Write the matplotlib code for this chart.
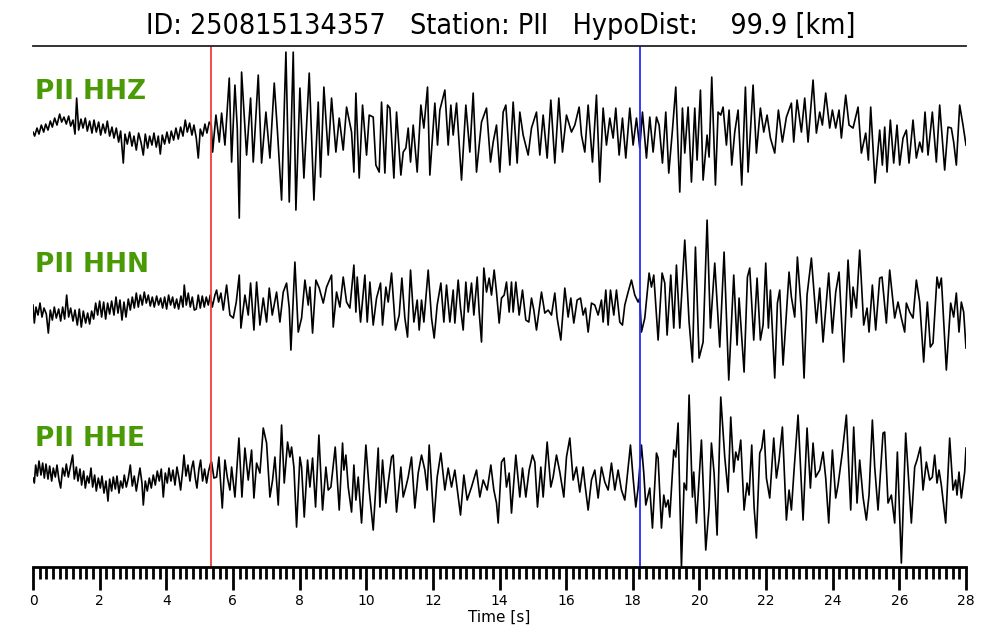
import matplotlib
matplotlib.use("Agg")
import matplotlib.pyplot as plt
import numpy as np

# event info
event_id = "250815134357"
station = "PII"
hypo_dist = 99.9
channels = ["HHZ", "HHN", "HHE"]
p_pick = 5.34   # red line [s]
s_pick = 18.22  # blue line [s]

# traces: vertex times [s] and amplitudes (arbitrary units)
z_t = [0.00, 0.05, 0.12, 0.18, 0.25, 0.32, 0.38, 0.45, 0.52, 0.58, 0.65, 0.72, 0.80, 0.86, 0.93,
       1.00, 1.07, 1.13, 1.20, 1.26, 1.31, 1.37, 1.44, 1.50, 1.57, 1.63, 1.70, 1.77, 1.83, 1.90,
       1.97, 2.03, 2.10, 2.17, 2.23, 2.30, 2.37, 2.43, 2.50, 2.57, 2.63, 2.71, 2.76, 2.83, 2.90,
       2.97, 3.03, 3.10, 3.17, 3.24, 3.31, 3.37, 3.44, 3.50, 3.57, 3.63, 3.70, 3.76, 3.82, 3.88,
       3.95, 4.02, 4.09, 4.15, 4.22, 4.29, 4.36, 4.43, 4.50, 4.57, 4.63, 4.70, 4.77, 4.83, 4.90,
       4.96, 5.02, 5.09, 5.16, 5.22, 5.29, 5.35,
       5.39, 5.49, 5.59, 5.66, 5.76, 5.89, 5.96, 6.06, 6.13, 6.19, 6.26, 6.41, 6.53, 6.61, 6.76,
       6.86, 6.99, 7.11, 7.24, 7.33, 7.46, 7.59, 7.69, 7.81, 7.89, 8.01, 8.13, 8.29, 8.43, 8.56,
       8.63, 8.73, 8.86, 8.96, 9.09, 9.19, 9.31, 9.41, 9.56, 9.63, 9.69, 9.79, 9.89, 10.01, 10.09,
       10.21, 10.29, 10.39, 10.46, 10.56, 10.64, 10.71, 10.83, 10.91, 11.04, 11.11, 11.19, 11.26,
       11.33, 11.41, 11.53, 11.64, 11.73, 11.84, 11.91, 12.06, 12.14, 12.21, 12.36, 12.46, 12.54,
       12.61, 12.71, 12.86, 12.99, 13.11, 13.21, 13.31, 13.46, 13.61, 13.73, 13.81, 13.91, 14.01,
       14.11, 14.19, 14.31, 14.41, 14.53, 14.61, 14.71, 14.86, 14.96, 15.11, 15.21, 15.31, 15.43,
       15.54, 15.66, 15.78, 15.89, 16.01, 16.16, 16.26, 16.39, 16.46, 16.56, 16.66, 16.79, 16.91,
       17.01, 17.11, 17.21, 17.31, 17.41, 17.49, 17.59, 17.69, 17.79, 17.91, 18.01, 18.11, 18.21,
       18.29, 18.41, 18.51, 18.61, 18.71, 18.79, 18.89, 18.99, 19.08, 19.19, 19.29, 19.41, 19.49,
       19.56, 19.66, 19.76, 19.86, 19.93, 20.03, 20.11, 20.23, 20.29, 20.37, 20.48, 20.56, 20.64,
       20.71, 20.81, 20.89, 20.97, 21.06, 21.16, 21.27, 21.38, 21.46, 21.61, 21.71, 21.83, 21.93,
       22.03, 22.13, 22.26, 22.37, 22.49, 22.61, 22.76, 22.83, 22.93, 23.06, 23.16, 23.26, 23.41,
       23.51, 23.61, 23.69, 23.79, 23.91, 23.99, 24.09, 24.19, 24.26, 24.39, 24.49, 24.61, 24.76,
       24.86, 24.99, 25.07, 25.14, 25.27, 25.41, 25.49, 25.56, 25.63, 25.73, 25.83, 25.93, 26.01,
       26.11, 26.21, 26.29, 26.41, 26.51, 26.61, 26.69, 26.77, 26.86, 26.99, 27.11, 27.21, 27.36,
       27.46, 27.56, 27.63, 27.71, 27.81, 27.91, 28.00]
z_a = [-2, -6, 2, -4, 5, -2, 6, 0, 9, 3, 12, 5, 16, 8, 13,
       6, 14, 4, 10, -4, 32, 0, 11, 2, 12, -1, 9, -3, 10, -2,
       8, -5, 6, -3, 9, -6, 3, -8, 2, -12, -1, -33, -4, -14, -2,
       -16, -6, -20, -3, -12, -25, -4, -18, -6, -15, -3, -17, -6, -24, -5,
       -14, -2, -13, -1, -10, 2, -9, 3, -6, 10, -2, 7, -5, 5, -8,
       -28, 1, -6, 6, -3, 8, 5,
       -22, 15, -12, 17, -15, 52, -32, 45, 2, -88, 58, -25, 32, -32, 55,
       -33, 18, -28, 47, 2, -70, 78, -72, 78, -80, 42, -48, 57, -70, 28,
       -47, 43, -25, 32, -22, 12, -20, 23, -2, -42, 37, -48, 25, -25, 15,
       13, -35, -42, 28, -43, 25, 22, -48, 18, -45, -22, -18, 2,
       -32, 5, -42, 25, 2, 43, -45, 27, -15, 20, 40, -15, 25,
       -5, 27, -50, 25, -22, 37, -42, 8, 22, -32, -12, 5, -42,
       18, 25, -35, 28, -33, 18, -5, -25, 2, 18, -25, 15, -28,
       30, -33, 32, -22, 15, -2, 5, 23, -5, -22, 25, -32, 35,
       -52, 22, -15, 12, -8, 22, -25, 12, -28, 22, -15, 12, -18,
       18, -28, 13, -22, 13, 5, -33, 18, -43, 0, 43, -62, 22,
       -23, 23, -52, 22, -30, 40, -50, -5, -27, 53, -55, 18, 15,
       23, -15, 20, -35, -2, 20, -55, 43, -42, 45, -23, 22, -2,
       15, -8, -23, 20, -12, 13, 27, -12, 30, -2, 32, -12, 50,
       -3, 18, 5, 37, 2, 20, 2, 20, -8, 35, 5, 2, 23,
       -23, -3, -30, 23, -53, 0, -35, 3, -42, 10, -33, 5, -35,
       -8, 0, -33, 10, -28, -12, -22, 18, -25, 18, -32, 25, -40,
       3, 2, -12, -35, 25, 5, -15]

n_t = [0.00, 0.04, 0.09, 0.15, 0.21, 0.27, 0.33, 0.40, 0.46, 0.52, 0.58, 0.64, 0.70, 0.77, 0.83,
       0.89, 0.95, 1.01, 1.07, 1.13, 1.20, 1.26, 1.33, 1.39, 1.45, 1.51, 1.58, 1.64, 1.70, 1.76,
       1.82, 1.88, 1.94, 2.00, 2.06, 2.12, 2.18, 2.24, 2.30, 2.36, 2.43, 2.49, 2.55, 2.61, 2.67,
       2.73, 2.79, 2.86, 2.92, 2.98, 3.04, 3.10, 3.16, 3.22, 3.28, 3.34, 3.40, 3.46, 3.52, 3.58,
       3.64, 3.71, 3.77, 3.83, 3.89, 3.95, 4.01, 4.07, 4.13, 4.19, 4.25, 4.31, 4.37, 4.44, 4.50,
       4.54, 4.60, 4.66, 4.72, 4.78, 4.84, 4.90, 4.96, 5.02, 5.08, 5.14, 5.20, 5.26, 5.32,
       5.38, 5.46, 5.51, 5.57, 5.64, 5.71, 5.81, 5.91, 6.01, 6.10, 6.19, 6.24, 6.36, 6.46, 6.53,
       6.63, 6.71, 6.81, 6.91, 7.01, 7.09, 7.18, 7.31, 7.41, 7.51, 7.61, 7.69, 7.74, 7.86, 7.96,
       8.06, 8.16, 8.26, 8.31, 8.39, 8.49, 8.59, 8.71, 8.81, 8.96, 9.01, 9.11, 9.21, 9.31, 9.41,
       9.51, 9.63, 9.69, 9.73, 9.83, 9.96, 10.03, 10.11, 10.21, 10.31, 10.43, 10.49, 10.59, 10.66,
       10.76, 10.88, 10.99, 11.07, 11.16, 11.24, 11.33, 11.43, 11.53, 11.59, 11.66, 11.73, 11.86,
       11.96, 12.04, 12.13, 12.24, 12.33, 12.41, 12.51, 12.61, 12.66, 12.76, 12.83, 12.91, 12.99,
       13.06, 13.16, 13.23, 13.33, 13.39, 13.46, 13.53, 13.61, 13.69, 13.76, 13.84, 13.91, 13.99,
       14.06, 14.14, 14.21, 14.29, 14.36, 14.41, 14.49, 14.59, 14.69, 14.79, 14.88, 14.96, 15.03,
       15.11, 15.26, 15.36, 15.46, 15.56, 15.66, 15.73, 15.84, 15.96, 16.06, 16.14, 16.23, 16.33,
       16.43, 16.51, 16.58, 16.66, 16.76, 16.86, 16.96, 17.06, 17.11, 17.19, 17.26, 17.33, 17.43,
       17.51, 17.61, 17.69, 17.76, 17.86, 17.96, 18.06, 18.16, 18.21, 18.26, 18.36, 18.49, 18.56,
       18.63, 18.76, 18.88, 18.96, 19.03, 19.14, 19.23, 19.31, 19.41, 19.56, 19.69, 19.79, 19.88,
       19.99, 20.11, 20.23, 20.33, 20.46, 20.61, 20.74, 20.88, 21.03, 21.13, 21.19, 21.34, 21.44,
       21.51, 21.63, 21.73, 21.83, 21.91, 21.99, 22.07, 22.13, 22.26, 22.34, 22.41, 22.51, 22.69,
       22.76, 22.86, 22.94, 23.06, 23.14, 23.23, 23.36, 23.43, 23.51, 23.61, 23.71, 23.88, 23.99,
       24.09, 24.19, 24.33, 24.46, 24.56, 24.61, 24.71, 24.81, 24.93, 25.03, 25.09, 25.19, 25.29,
       25.41, 25.48, 25.61, 25.71, 25.86, 25.96, 26.06, 26.16, 26.21, 26.31, 26.41, 26.51, 26.61,
       26.73, 26.84, 26.93, 27.01, 27.13, 27.19, 27.26, 27.41, 27.54, 27.63, 27.71, 27.79, 27.86,
       27.93, 28.00]
n_a = [0, -18, -2, -10, 2, -12, -3, -9, -28, -5, -15, -2, -13, -4, -16,
       -2, -14, 10, -12, -3, -16, -5, -20, -4, -22, -6, -18, -8, -19, -6,
       -14, 2, -10, 4, -12, 3, -14, 2, -9, 4, -10, 8, -8, 5, -15,
       3, -12, 6, -5, 8, -3, 12, -2, 10, 0, 13, 2, 10, -1, 8,
       -2, 9, 0, 7, -3, 8, -4, 10, 0, 8, -3, 6, -4, 9, -2,
       20, 0, 12, -2, 8, -5, -4, 10, -3, 9, -2, 8, 0, 10,
       -2, 10, 15, 3, 12, -5, 20, -10, -13, 3, 30, -23, 10, -10, 22,
       -25, 23, -20, 7, -17, 17, -10, 13, -17, 13, 22, -3, -45, 43, -27,
       -13, 25, 0, 18, -28, 25, 17, 2, 18, 30, -22, 13, -2, 28, 3,
       -3, 40, -7, 28, -17, 30, -17, 23, -20, 7, 22, -20, 18, 3,
       32, -25, -10, 27, -13, -32, 35, -17, 5, -25, 5, -17, 35,
       -13, -33, 0, 22, -17, 20, -17, 15, -18, 25, -3, -25, 23,
       -7, 22, -10, 28, -7, -37, 37, 13, 27, 10, 35, 13, -18,
       7, 10, 23, -7, 23, -7, 23, -10, 15, -15, -17, 7, -5,
       -25, 13, -8, -5, -10, 12, -13, -35, 17, -12, 7, -18, 5,
       7, -10, -3, -27, 2, 0, -10, 5, -17, 15, -20, 15, -10,
       15, -17, -20, 0, 13, 25, 10, 3, 7, -27, -13, 32, 18,
       30, -35, 32, 22, -30, 30, -23, 40, -23, 65, -17, -57, 58,
       -53, -37, 85, -23, 42, -42, 53, -75, 30, -40, 7, -67, 28,
       37, -35, 27, -35, -20, 42, -23, 15, -73, 2, 15, -60, 33,
       8, -12, 48, -7, -73, 10, 47, 17, -18, 17, -37, 32, -28,
       13, 33, -57, 45, -12, 18, -3, 55, -20, -3, -27, 20, -25,
       27, 28, -18, 35, -13, 3, -13, -27, 2, -7, -13, 25, 3,
       -57, 3, -42, -38, 28, 17, 27, -65, 2, -12, 12, -27, 3,
       -7, -43]

e_t = [0.00, 0.04, 0.08, 0.13, 0.18, 0.24, 0.29, 0.34, 0.39, 0.45, 0.50, 0.56, 0.61, 0.67, 0.72,
       0.78, 0.83, 0.89, 0.95, 1.00, 1.06, 1.12, 1.19, 1.24, 1.30, 1.35, 1.41, 1.46, 1.52, 1.57,
       1.63, 1.68, 1.74, 1.79, 1.85, 1.90, 1.96, 2.02, 2.07, 2.13, 2.19, 2.25, 2.30, 2.36, 2.41,
       2.47, 2.52, 2.58, 2.63, 2.69, 2.74, 2.80, 2.86, 2.92, 2.98, 3.04, 3.10, 3.16, 3.21, 3.27,
       3.31, 3.37, 3.43, 3.49, 3.55, 3.61, 3.67, 3.73, 3.79, 3.85, 3.91, 3.97, 4.03, 4.08, 4.14,
       4.20, 4.26, 4.32, 4.38, 4.43, 4.49, 4.53, 4.59, 4.65, 4.71, 4.76, 4.81, 4.87, 4.92, 4.98,
       5.03, 5.09, 5.15, 5.21, 5.27, 5.33,
       5.36, 5.43, 5.51, 5.58, 5.68, 5.76, 5.83, 5.91, 5.96, 6.06, 6.18, 6.27, 6.36, 6.46, 6.56,
       6.63, 6.71, 6.81, 6.91, 7.01, 7.11, 7.19, 7.26, 7.36, 7.46, 7.54, 7.64, 7.71, 7.76, 7.83,
       7.91, 8.01, 8.06, 8.14, 8.24, 8.31, 8.39, 8.48, 8.58, 8.69, 8.79, 8.86, 8.94, 9.07, 9.19,
       9.29, 9.33, 9.39, 9.46, 9.56, 9.63, 9.69, 9.76, 9.86, 9.99, 10.09, 10.21, 10.36, 10.41,
       10.49, 10.59, 10.66, 10.76, 10.81, 10.91, 11.04, 11.11, 11.19, 11.26, 11.36, 11.46, 11.56,
       11.66, 11.76, 11.83, 11.89, 12.03, 12.13, 12.24, 12.36, 12.46, 12.56, 12.66, 12.76, 12.83,
       12.93, 13.03, 13.16, 13.31, 13.41, 13.51, 13.63, 13.74, 13.83, 13.91, 13.96, 14.06, 14.14,
       14.21, 14.29, 14.36, 14.49, 14.61, 14.69, 14.79, 14.89, 14.99, 15.06, 15.14, 15.24, 15.31,
       15.43, 15.54, 15.61, 15.71, 15.81, 15.93, 16.01, 16.11, 16.21, 16.31, 16.41, 16.51, 16.56,
       16.66, 16.76, 16.86, 16.96, 17.06, 17.16, 17.26, 17.36, 17.46, 17.56, 17.66, 17.76, 17.83,
       17.93, 18.01, 18.09, 18.16, 18.26, 18.33, 18.39, 18.51, 18.59, 18.71, 18.76, 18.86, 18.93,
       18.99, 19.06, 19.11, 19.23, 19.29, 19.36, 19.46, 19.54, 19.61, 19.69, 19.79, 19.83, 19.91,
       19.98, 20.06, 20.19, 20.29, 20.36, 20.44, 20.53, 20.64, 20.76, 20.86, 20.94, 21.03, 21.09,
       21.16, 21.24, 21.34, 21.43, 21.49, 21.57, 21.64, 21.71, 21.81, 21.87, 21.94, 22.01, 22.11,
       22.23, 22.31, 22.39, 22.49, 22.61, 22.69, 22.76, 22.84, 22.96, 23.11, 23.23, 23.33, 23.41,
       23.49, 23.61, 23.71, 23.79, 23.88, 23.99, 24.09, 24.16, 24.29, 24.41, 24.54, 24.63, 24.73,
       24.81, 24.91, 25.01, 25.09, 25.19, 25.26, 25.36, 25.51, 25.56, 25.66, 25.76, 25.86, 25.94,
       26.06, 26.19, 26.36, 26.46, 26.53, 26.63, 26.71, 26.81, 26.91, 26.99, 27.06, 27.13, 27.19,
       27.26, 27.39, 27.51, 27.61, 27.69, 27.73, 27.79, 27.86, 27.96, 28.00]
e_a = [-5, -10, 8, -3, 12, -2, 10, -5, 9, -6, 7, -8, 5, -4, 8,
       -7, -15, 5, -3, 9, -4, 6, 18, -6, 6, -8, 4, -12, 2, -15,
       -3, -10, 5, -14, -2, -18, -5, -15, -3, -20, -8, -28, -6, -18, -4,
       -16, -3, -20, -8, -15, -2, -14, -5, 8, -13, -3, -18, -5, 5, -10,
       -32, -8, -18, -5, -15, -2, -12, 2, -8, 4, -24, 0, -10, 5, -8,
       3, -12, 6, -5, -17, 2, 18, -3, 8, -8, 5, 12, -5, -15, 4,
       13, -8, 4, -10, 2, 10,
       11, -5, -4, 16, -35, 13, -4, -17, 6, -24, 35, -24, 25, -7, 23,
       -25, 10, 0, 45, 30, -24, -7, 16, -32, 48, -10, 31, 16, 26, 6,
       -54, 16, 6, -44, 13, -14, 15, -34, 38, -37, 6, -17, -14, 26, -37,
       30, 3, 18, -14, -39, 8, -27, -4, -50, 28, -17, -57, 25, -34,
       13, -30, -10, 16, 18, -39, 6, -24, -14, -4, 16, -35, 0,
       18, 3, -17, 28, -49, -4, 20, -17, 5, -14, 3, -24, -42,
       -2, -27, -14, 3, -24, -7, -17, 8, -17, -30, -50, 11, 15,
       -14, 0, -40, 18, -24, 5, -24, 3, 18, 11, -34, 6, -24,
       31, -14, -4, 18, 1, -24, 16, 35, -7, 6, -19, 6, -10,
       -37, -7, 3, -25, 6, -9, -17, 10, -17, 3, -17, -27, -4,
       28, -5, -34, -15, 28, 0, -32, -15, -55, 20, 15, -55, -22,
       -34, -27, -44, 23, 16, 50, -94, -10, -17, 78, -24, 1, -50,
       -12, 33, -77, -34, 30, 0, -62, 76, 16, -19, 56, 1, 21,
       13, 33, -37, -10, -22, 28, -34, -65, 20, 25, 43, -5, -25,
       35, -5, 13, 46, -47, -17, -37, 3, 58, -47, 45, -15, 30,
       -4, 3, 21, -5, -50, 23, -25, -12, 21, 58, -37, 46, -30,
       13, -24, -47, -22, 53, 6, -37, 40, 41, -30, -22, -50, 21,
       -90, 40, -50, 6, 13, 26, -17, 11, -7, -4, 18, -10, 3,
       -12, -50, 35, -17, -7, -22, 1, -25, 1, 25]

traces = [(z_t, z_a), (n_t, n_a), (e_t, e_a)]
offsets = [437, 262, 94]
label_y = [475, 302, 128]

fig = plt.figure(figsize=(10, 6.4), dpi=100)
ax = fig.add_axes([0.033, 0.114, 0.933, 0.814])

for (t, a), off, ch, ly in zip(traces, offsets, channels, label_y):
    ax.plot(t, np.array(a) + off, color="black", lw=1.2)
    ax.text(0.06, ly, f"{station} {ch}", color="#4a9a06", fontsize=19,
            fontweight="bold", va="center", ha="left")

ax.axvline(p_pick, color="#f03c3c", lw=1.3)
ax.axvline(s_pick, color="#2a2aff", lw=1.3)

ax.set_xlim(0, 28)
ax.set_ylim(0, 521)
ax.set_yticks([])
for side in ["left", "right"]:
    ax.spines[side].set_visible(False)
ax.spines["top"].set_linewidth(1.3)
ax.spines["top"].set_color("#222222")
ax.spines["bottom"].set_linewidth(2)

ax.set_xticks(np.arange(0, 29, 2))
ax.set_xticks(np.arange(0, 28.01, 0.2), minor=True)
ax.tick_params(axis="x", which="major", length=16.5, width=2, labelsize=10, pad=3)
ax.tick_params(axis="x", which="minor", length=8.5, width=2)
ax.set_xlabel("Time [s]", fontsize=11, labelpad=1)

title = f"ID: {event_id}   Station: {station}   HypoDist:    {hypo_dist:.1f} [km]"
fig.text(0.501, 0.959, title, ha="center", va="center", fontsize=20.5,
         family="DejaVu Sans", fontstretch="condensed")

fig.savefig("out.png", dpi=100)
